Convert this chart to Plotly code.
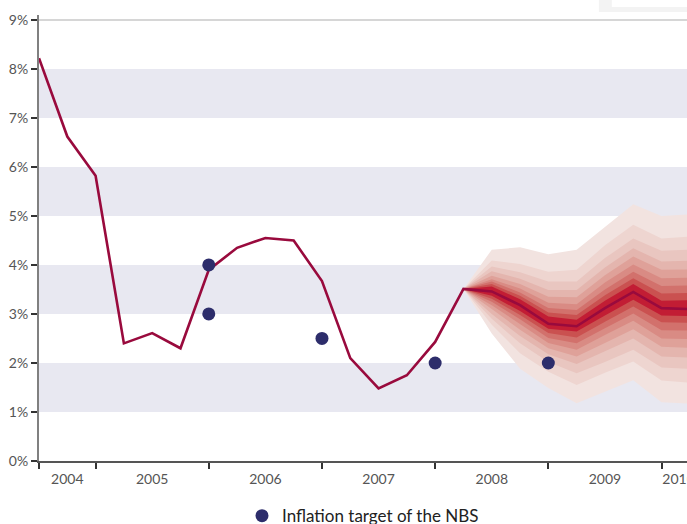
import plotly.graph_objects as go

# ---------------- data ----------------
quarters = list(range(24))          # quarterly index, 0 = 2004 Q2
inflation = [8.22, 6.62, 5.82, 2.40, 2.61, 2.30, 3.90, 4.35, 4.55, 4.50, 3.67, 2.10,
             1.48, 1.75, 2.43, 3.51, 3.46, 3.18, 2.80, 2.75, 3.12, 3.45, 3.12, 3.10]

target_q = [6, 6, 10, 14, 18]
target_val = [4.0, 3.0, 2.5, 2.0, 2.0]

year_labels = ["2004", "2005", "2006", "2007", "2008", "2009", "2010"]
year_label_pos = [1, 4, 8, 12, 16, 20, 22.6]
year_tick_pos = [0, 2, 6, 10, 14, 18, 22]

fan_q = [15, 16, 17, 18, 19, 20, 21, 22, 23]
# upper boundaries, outer -> inner
fan_upper = [
    [3.51, 4.31, 4.36, 4.22, 4.31, 4.78, 5.24, 5.00, 5.03],
    [3.51, 4.09, 4.02, 3.86, 3.90, 4.40, 4.82, 4.54, 4.58],
    [3.51, 3.97, 3.85, 3.66, 3.66, 4.14, 4.54, 4.29, 4.31],
    [3.51, 3.87, 3.72, 3.49, 3.49, 3.95, 4.34, 4.07, 4.09],
    [3.51, 3.78, 3.61, 3.35, 3.34, 3.79, 4.17, 3.90, 3.91],
    [3.51, 3.71, 3.52, 3.23, 3.20, 3.64, 4.01, 3.73, 3.74],
    [3.51, 3.66, 3.44, 3.12, 3.08, 3.50, 3.86, 3.57, 3.58],
    [3.51, 3.61, 3.37, 3.03, 2.98, 3.38, 3.73, 3.42, 3.43],
    [3.51, 3.56, 3.30, 2.95, 2.88, 3.27, 3.61, 3.27, 3.28],
]
# lower boundaries, outer -> inner
fan_lower = [
    [3.51, 2.60, 1.88, 1.49, 1.18, 1.41, 1.65, 1.20, 1.17],
    [3.51, 2.78, 2.20, 1.82, 1.55, 1.80, 2.03, 1.64, 1.60],
    [3.51, 2.90, 2.40, 2.02, 1.79, 2.02, 2.27, 1.91, 1.88],
    [3.51, 3.00, 2.55, 2.18, 1.98, 2.24, 2.50, 2.13, 2.11],
    [3.51, 3.10, 2.68, 2.30, 2.13, 2.41, 2.69, 2.33, 2.31],
    [3.51, 3.18, 2.79, 2.41, 2.27, 2.57, 2.86, 2.50, 2.49],
    [3.51, 3.25, 2.89, 2.51, 2.40, 2.71, 3.01, 2.67, 2.66],
    [3.51, 3.31, 2.98, 2.61, 2.52, 2.84, 3.15, 2.83, 2.82],
    [3.51, 3.37, 3.06, 2.70, 2.64, 2.97, 3.29, 2.97, 2.96],
]
fan_colors = ["#f2e3e0", "#eed5d0", "#e9c6c0", "#e4b5ae", "#dfa199",
              "#d98b84", "#d2716c", "#ca5150", "#c21d34"]

y_ticks = list(range(10))
y_tick_text = [f"{v}%" for v in y_ticks]
band_ranges = [(1, 2), (3, 4), (5, 6), (7, 8)]

# ---------------- figure ----------------
FONT = "Lato"
fig = go.Figure()

for k in range(len(fan_upper)):
    xs = fan_q + fan_q[::-1]
    ys = fan_upper[k] + fan_lower[k][::-1]
    fig.add_trace(go.Scatter(x=xs, y=ys, fill="toself", mode="lines",
                             line=dict(width=0), fillcolor=fan_colors[k],
                             showlegend=False, hoverinfo="skip"))

fig.add_trace(go.Scatter(x=quarters, y=inflation, mode="lines",
                         line=dict(color="#990a3d", width=2.6),
                         showlegend=False))

fig.add_trace(go.Scatter(x=target_q, y=target_val, mode="markers",
                         marker=dict(color="#2d2d6b", size=13),
                         name="Inflation target of the NBS"))

shapes = []
for lo, hi in band_ranges:
    shapes.append(dict(type="rect", xref="paper", yref="y", x0=0, x1=1, y0=lo, y1=hi,
                       fillcolor="#e8e8f1", line=dict(width=0), layer="below"))
shapes.append(dict(type="line", xref="paper", yref="y", x0=0, x1=1, y0=9, y1=9,
                   line=dict(color="#c8c8c8", width=1.5), layer="below"))
# faint box remnant in top-right corner
shapes.append(dict(type="rect", xref="paper", yref="paper", x0=0.864, x1=1.02,
                   y0=1.0067, y1=1.05, fillcolor="#f3f3f3", line=dict(width=0)))
shapes.append(dict(type="rect", xref="paper", yref="paper", x0=0.884, x1=1.02,
                   y0=1.018, y1=1.05, fillcolor="#ffffff", line=dict(width=0)))

fig.update_layout(
    width=687, height=524,
    margin=dict(l=39, r=0, t=15, b=63, autoexpand=False),
    paper_bgcolor="white", plot_bgcolor="white",
    font=dict(family=FONT, color="#555555", size=13),
    shapes=shapes,
    showlegend=True,
    legend=dict(orientation="h", x=0.5, xanchor="center",
                yref="container", y=0.015, yanchor="middle",
                font=dict(family=FONT, size=17, color="#222222"),
                bgcolor="rgba(0,0,0,0)", itemwidth=30),
    xaxis=dict(range=[0, 22.9], showgrid=False, zeroline=False, automargin=False,
               showline=True, linecolor="#555555", linewidth=2,
               tickmode="array", tickvals=year_label_pos, ticktext=year_labels,
               ticks="outside", ticklen=4, tickcolor="rgba(0,0,0,0)",
               ticklabeloverflow="allow",
               tickfont=dict(family=FONT, size=14, color="#555555"),
               minor=dict(tickmode="array", tickvals=year_tick_pos, ticks="outside",
                          ticklen=6, tickwidth=1.5, tickcolor="#333333", showgrid=False)),
    yaxis=dict(range=[0, 9.1], showgrid=False, zeroline=False, automargin=False,
               showline=True, linecolor="#808080", linewidth=2,
               tickmode="array", tickvals=y_ticks, ticktext=y_tick_text,
               ticks="outside", ticklen=6, tickwidth=1.5, tickcolor="#333333",
               tickfont=dict(family=FONT, size=14, color="#555555")),
)

fig.write_html("out.html", config={"displayModeBar": False},
               post_script="document.body.style.margin='0';document.body.style.overflow='hidden';")
